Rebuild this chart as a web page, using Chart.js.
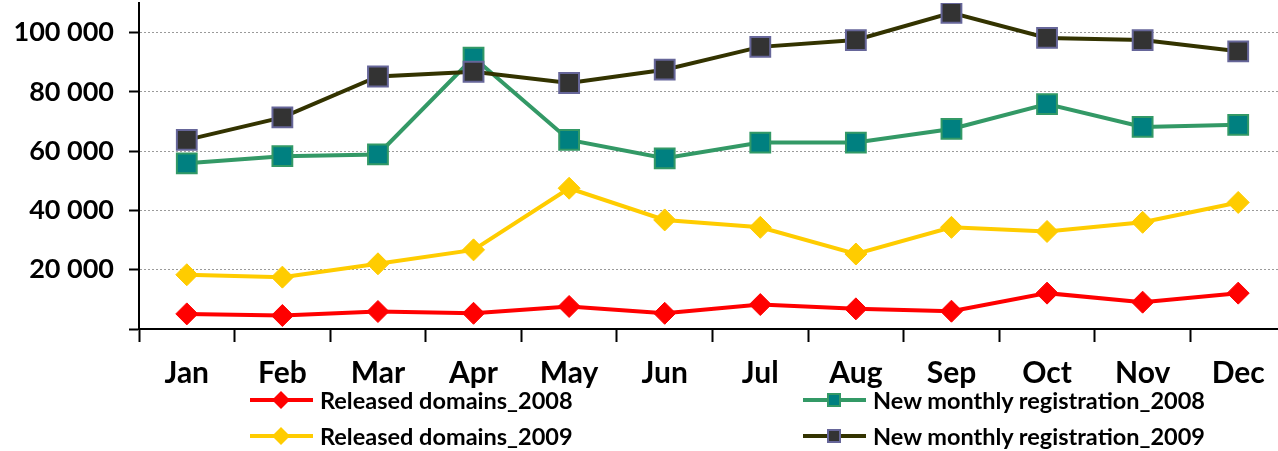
<!DOCTYPE html>
<html>
<head>
<meta charset="utf-8">
<script src="https://cdn.jsdelivr.net/npm/chart.js@4/dist/chart.umd.min.js"></script>
<style>
  html, body { margin: 0; padding: 0; background: #fff; overflow: hidden; }
  #wrap { position: relative; width: 1290px; height: 451px; }
  #myChart1 { position: absolute; left: 0; top: 0; }
  .leg { position: absolute; height: 26px; font: bold 23.5px Lato, sans-serif; color: #000; white-space: nowrap; }
  .leg svg { position: absolute; left: 0; top: 1px; }
  .leg span { position: absolute; top: 0; line-height: 26px; }
</style>
</head>
<body>
<div id="wrap">
  <canvas id="myChart1" width="1290" height="451"></canvas>
  <div id="legend"></div>
</div>
<script>
// values
const months = ["Jan", "Feb", "Mar", "Apr", "May", "Jun", "Jul", "Aug", "Sep", "Oct", "Nov", "Dec"];
const released2008 = [5100, 4550, 5900, 5300, 7600, 5300, 8250, 6800, 6000, 12100, 9050, 12100];
const released2009 = [18300, 17500, 22000, 26700, 47500, 36800, 34300, 25300, 34300, 32900, 36000, 42700];
const newReg2008 = [55900, 58300, 58900, 91600, 63800, 57600, 62900, 62900, 67500, 75900, 68200, 68900];
const newReg2009 = [63800, 71400, 85200, 86800, 83000, 87500, 95200, 97500, 106700, 98200, 97500, 93700];
const yTickValues = [0, 20000, 40000, 60000, 80000, 100000];
const yMax = 110000;

function fmt(v) {
  return v.toString().replace(/\B(?=(\d{3})+(?!\d))/g, " ");
}

// legend in html, two columns
const legendItems = [
  { label: "Released domains_2008", line: "#ff0000", fill: "#ff0000", border: "#ff0000", shape: "diamond", x: 250, y: 400 },
  { label: "New monthly registration_2008", line: "#339966", fill: "#008080", border: "#339966", shape: "square", x: 803, y: 400 },
  { label: "Released domains_2009", line: "#ffcc00", fill: "#ffcc00", border: "#ffcc00", shape: "diamond", x: 250, y: 436 },
  { label: "New monthly registration_2009", line: "#333300", fill: "#333333", border: "#666699", shape: "square", x: 803, y: 436 },
];
let html = "";
for (let i = 0; i < legendItems.length; i++) {
  const it = legendItems[i];
  let mark;
  if (it.shape === "diamond") {
    mark = '<polygon points="22,12 31,3 40,12 31,21" fill="' + it.fill + '"/>';
  } else {
    mark = '<rect x="25" y="6" width="12" height="12" fill="' + it.fill + '" stroke="' + it.border + '" stroke-width="2"/>';
  }
  html += '<div class="leg" style="left:' + it.x + 'px;top:' + (it.y - 13) + 'px">' +
    '<svg width="63" height="24"><line x1="0" y1="12" x2="63" y2="12" stroke="' + it.line + '" stroke-width="4"/>' + mark + '</svg>' +
    '<span style="left:70px">' + it.label + '</span></div>';
}
document.getElementById("legend").innerHTML = html;

new Chart(document.getElementById("myChart1"), {
  type: "line",
  data: {
    labels: months,
    datasets: [
      {
        label: "Released domains_2008",
        data: released2008,
        borderColor: "#ff0000",
        backgroundColor: "#ff0000",
        borderWidth: 4,
        pointStyle: "rectRot",
        pointRadius: 11,
        pointBorderWidth: 1,
        pointBorderColor: "#ff0000",
        pointBackgroundColor: "#ff0000",
      },
      {
        label: "Released domains_2009",
        data: released2009,
        borderColor: "#ffcc00",
        backgroundColor: "#ffcc00",
        borderWidth: 4,
        pointStyle: "rectRot",
        pointRadius: 11,
        pointBorderWidth: 1,
        pointBorderColor: "#ffcc00",
        pointBackgroundColor: "#ffcc00",
      },
      {
        label: "New monthly registration_2009",
        data: newReg2009,
        borderColor: "#333300",
        backgroundColor: "#333333",
        borderWidth: 4,
        pointStyle: "rect",
        pointRadius: 14,
        pointBorderWidth: 2,
        pointBorderColor: "#666699",
        pointBackgroundColor: "#333333",
      },
      {
        label: "New monthly registration_2008",
        data: newReg2008,
        borderColor: "#339966",
        backgroundColor: "#008080",
        borderWidth: 4,
        pointStyle: "rect",
        pointRadius: 14,
        pointBorderWidth: 2,
        pointBorderColor: "#339966",
        pointBackgroundColor: "#008080",
      },
    ],
  },
  options: {
    responsive: false,
    animation: false,
    layout: { autoPadding: false, padding: { left: 0, top: 3, right: 4, bottom: 0 } },
    plugins: {
      legend: { display: false },
      tooltip: { enabled: false },
    },
    elements: { line: { tension: 0 } },
    scales: {
      x: {
        offset: true,
        grid: {
          offset: true,
          drawOnChartArea: false,
          drawTicks: true,
          tickLength: 13,
          tickColor: "#000",
          tickWidth: 2,
        },
        border: { color: "#000", width: 2 },
        ticks: { color: "#000", font: { family: "Lato", weight: "bold", size: 30 }, padding: 13, maxRotation: 0, autoSkip: false },
        afterFit: function (scale) {
          scale.height = 122;
          scale.paddingLeft = 0;
          scale.paddingRight = 0;
        },
      },
      y: {
        min: 0,
        max: yMax,
        ticks: {
          color: "#000",
          font: { family: "Lato", weight: "bold", size: 27 },
          padding: 15,
          autoSkip: false,
          callback: function (v) { return v === 0 ? "" : fmt(v); },
        },
        afterBuildTicks: function (scale) {
          scale.ticks = yTickValues.map(function (v) { return { value: v }; });
        },
        afterFit: function (scale) {
          scale.width = 139;
          scale.paddingTop = 0;
          scale.paddingBottom = 0;
        },
        grid: {
          color: function (c) { return c.tick && c.tick.value === 0 ? "rgba(0,0,0,0)" : "#9a9a9a"; },
          lineWidth: 1,
          tickColor: "#000",
          tickWidth: 2,
          tickLength: 10,
          tickBorderDash: [],
        },
        border: { color: "#000", width: 2, dash: [2, 2] },
      },
    },
  },
});
</script>
</body>
</html>
